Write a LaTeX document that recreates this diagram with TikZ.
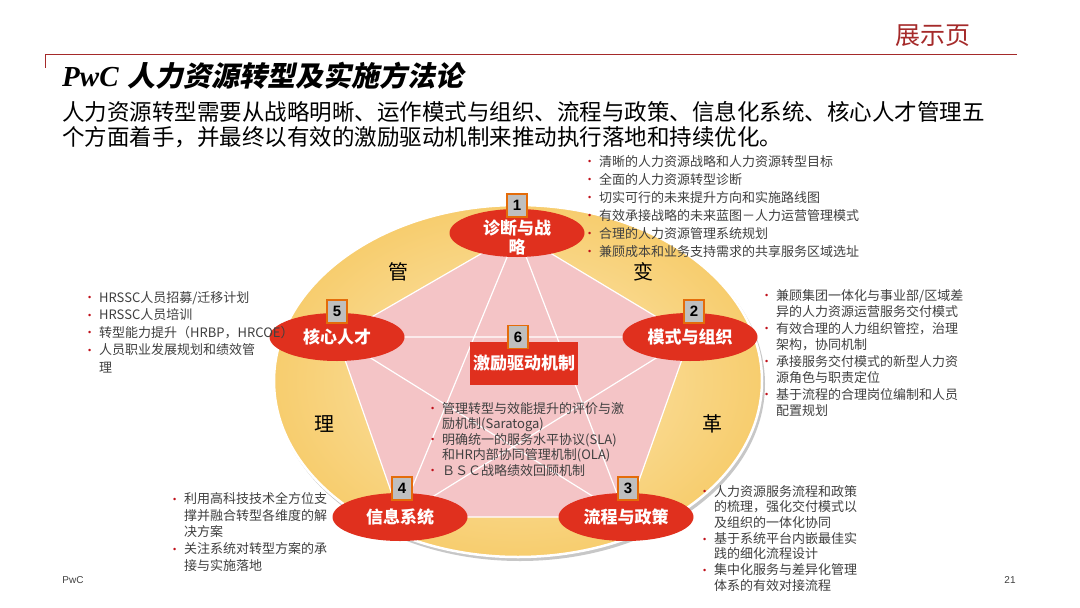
\documentclass[tikz,border=0pt]{standalone}
\usepackage{fontspec}
\setmainfont{Noto Sans CJK SC}
\newfontfamily\titlecjk[FakeSlant=0.2]{Noto Sans CJK SC}
\newfontfamily\titlelat{Liberation Serif}
\newfontfamily\latsans{Liberation Sans}
\usepackage{xcolor}
\usetikzlibrary{positioning,shapes.geometric}

\definecolor{pwcred}{HTML}{E0301E}
\definecolor{hdrred}{HTML}{A52A2A}
\definecolor{ringgold}{HTML}{F7CD6E}
\definecolor{ringlight}{HTML}{FCE8B6}
\definecolor{pentpink}{HTML}{F4C4C6}
\definecolor{numgray}{HTML}{BFBFBF}
\definecolor{numorange}{HTML}{E46C0A}
\definecolor{bodygray}{HTML}{404040}
\definecolor{dotred}{HTML}{C0101A}

% bullet and hanging indent for the note lists
\newcommand{\pbul}{\makebox[11pt][l]{\color{dotred}\latsans\fontsize{9}{9}\selectfont\raisebox{1.2pt}{\textbullet}}}
\newcommand{\pind}{\hspace*{11pt}}

\begin{document}
\begin{tikzpicture}[
  x=1pt, y=-1pt,
  redell/.style={ellipse, fill=pwcred, minimum width=135pt, minimum height=48pt,
                 inner sep=0pt, text=white, font=\fontsize{17}{20}\selectfont\bfseries},
  numbox/.style={rectangle, draw=numorange, line width=1.5pt, fill=numgray,
                 minimum width=20pt, minimum height=23pt, inner sep=0pt,
                 font=\latsans\bfseries\fontsize{15}{15}\selectfont},
  midbox/.style={rectangle, fill=pwcred, minimum width=108pt, minimum height=43pt,
                 inner sep=0pt, text=white, font=\fontsize{17}{20}\selectfont\bfseries},
  bigchar/.style={font=\fontsize{20}{20}\selectfont, text=black},
  starline/.style={draw=white, line width=1.2pt},
  notes/.style={anchor=north west, align=left, inner sep=0pt, text=bodygray},
]
  \useasboundingbox[fill=white] (0,0) rectangle (1080,608);

  % Header: page tag and rule
  \node[text=hdrred, font=\fontsize{25}{25}\selectfont] (tag) at (933,36) {展示页};
  \draw[hdrred, line width=0.8pt] (45,54) -- (1017,54);
  \draw[hdrred, line width=0.8pt] (45,54) -- (45,68);

  % Title and lead text
  \node[anchor=west, inner sep=0pt] (title) at (62,76)
    {{\titlelat\bfseries\itshape\fontsize{29}{29}\selectfont PwC}\hspace{9pt}{\titlecjk\bfseries\fontsize{28}{28}\selectfont 人力资源转型及实施方法论}};
  \node[anchor=north west, align=left, inner sep=0pt, text=black,
        font=\fontsize{22.5}{25}\selectfont] (lead) at (62,101)
    {人力资源转型需要从战略明晰、运作模式与组织、流程与政策、信息化系统、核心人才管理五\\
     个方面着手，并最终以有效的激励驱动机制来推动执行落地和持续优化。};

  % Ring and pentagon
  \coordinate (v1) at (517,233);
  \coordinate (v2) at (690,337);
  \coordinate (v3) at (626,517);
  \coordinate (v4) at (400,517);
  \coordinate (v5) at (337,337);
  \fill[black!22] (520,384) ellipse [x radius=245, y radius=177];
  \shade[inner color=ringlight, outer color=ringgold] (518,381) ellipse [x radius=244, y radius=176];
  \draw[white, line width=2.5pt] (518,381) ellipse [x radius=244, y radius=176];
  \fill[pentpink] (v1) -- (v2) -- (v3) -- (v4) -- (v5) -- cycle;
  \draw[starline] (v1) -- (v3) (v1) -- (v4) (v2) -- (v4) (v2) -- (v5) (v3) -- (v5);
  \draw[starline] (v1) -- (v2) -- (v3) -- (v4) -- (v5) -- cycle;

  % Ring words
  \node[bigchar] (w1) at (398,272) {管};
  \node[bigchar] (w2) at (643,272) {变};
  \node[bigchar] (w3) at (324,424) {理};
  \node[bigchar] (w4) at (712,424) {革};

  % Five fields
  \node[redell] (d1) at (v1) {\raisebox{-11pt}[0pt][0pt]{\begin{tabular}{@{}c@{}}诊断与战\\[-1pt]略\end{tabular}}};
  \node[redell] (d2) at (v2) {模式与组织};
  \node[redell] (d3) at (v3) {流程与政策};
  \node[redell] (d4) at (v4) {信息系统};
  \node[redell] (d5) at (v5) {核心人才};
  \node[midbox] (d6) at (524,363) {激励驱动机制};

  % Number tags
  \node[numbox, above=-9pt of d1] (n1) {1};
  \node[numbox, above=-11pt of d2, xshift=4pt] (n2) {2};
  \node[numbox, above=-8pt of d3, xshift=2pt] (n3) {3};
  \node[numbox, above=-8pt of d4, xshift=2pt] (n4) {4};
  \node[numbox, above=-11pt of d5] (n5) {5};
  \node[numbox, above=-8pt of d6, xshift=-6pt] (n6) {6};

  % Notes
  \node[notes, font=\fontsize{13}{18}\selectfont] (t1) at (588,155)
    {\pbul 清晰的人力资源战略和人力资源转型目标\\
     \pbul 全面的人力资源转型诊断\\
     \pbul 切实可行的未来提升方向和实施路线图\\
     \pbul 有效承接战略的未来蓝图－人力运营管理模式\\
     \pbul 合理的人力资源管理系统规划\\
     \pbul 兼顾成本和业务支持需求的共享服务区域选址};
  \node[notes, font=\fontsize{13}{17.5}\selectfont] (t5) at (88,291)
    {\pbul HRSSC人员招募/迁移计划\\
     \pbul HRSSC人员培训\\
     \pbul 转型能力提升（HRBP，HRCOE）\\
     \pbul 人员职业发展规划和绩效管\\
     \pind 理};
  \node[notes, font=\fontsize{13}{16.5}\selectfont] (t2) at (765,289)
    {\pbul 兼顾集团一体化与事业部/区域差\\
     \pind 异的人力资源运营服务交付模式\\
     \pbul 有效合理的人力组织管控，治理\\
     \pind 架构，协同机制\\
     \pbul 承接服务交付模式的新型人力资\\
     \pind 源角色与职责定位\\
     \pbul 基于流程的合理岗位编制和人员\\
     \pind 配置规划};
  \node[notes, font=\fontsize{13}{15.5}\selectfont] (t6) at (431,402)
    {\pbul 管理转型与效能提升的评价与激\\
     \pind 励机制(Saratoga)\\
     \pbul 明确统一的服务水平协议(SLA)\\
     \pind 和HR内部协同管理机制(OLA)\\
     \pbul ＢＳＣ战略绩效回顾机制};
  \node[notes, font=\fontsize{13}{16.8}\selectfont] (t4) at (173,492)
    {\pbul 利用高科技技术全方位支\\
     \pind 撑并融合转型各维度的解\\
     \pind 决方案\\
     \pbul 关注系统对转型方案的承\\
     \pind 接与实施落地};
  \node[notes, font=\fontsize{13}{15.7}\selectfont] (t3) at (703,485)
    {\pbul 人力资源服务流程和政策\\
     \pind 的梳理，强化交付模式以\\
     \pind 及组织的一体化协同\\
     \pbul 基于系统平台内嵌最佳实\\
     \pind 践的细化流程设计\\
     \pbul 集中化服务与差异化管理\\
     \pind 体系的有效对接流程};

  % Footer
  \node[font=\latsans\fontsize{10}{10}\selectfont, text=bodygray] (foot) at (73,580) {PwC};
  \node[font=\latsans\fontsize{10}{10}\selectfont, text=bodygray] (page) at (1010,580) {21};
\end{tikzpicture}
\end{document}
